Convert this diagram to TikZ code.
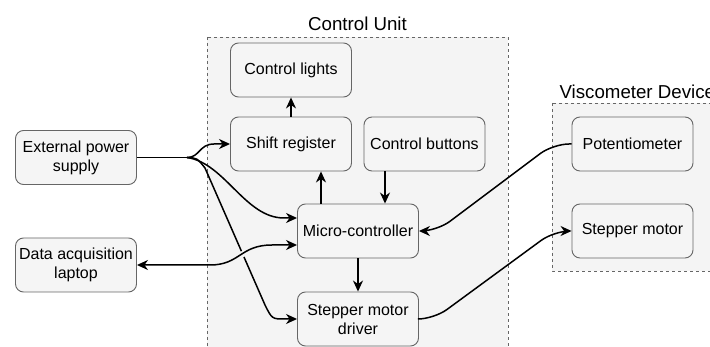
\documentclass[tikz,border=0pt]{standalone}
\usepackage{fontspec}
\setmainfont{Liberation Sans}
\usetikzlibrary{arrows.meta}
\definecolor{boxfill}{HTML}{F5F5F5}
\definecolor{boxline}{HTML}{666666}
\definecolor{cubg}{HTML}{F4F4F4}
\tikzset{
  blk/.style={draw=boxline, fill=boxfill, rounded corners=8pt, line width=0.9pt,
    minimum width=121pt, minimum height=54pt, align=center, inner sep=2pt,
    font=\fontsize{16}{19}\selectfont},
  grp/.style={draw=boxline, fill=cubg, dashed, dash pattern=on 3pt off 3pt, line width=0.9pt},
  ttl/.style={font=\fontsize{18.7}{22}\selectfont, anchor=base},
  conn/.style={draw=black, line width=1.5pt, -{Stealth[length=11pt,width=10pt,inset=3.5pt]}},
  dconn/.style={draw=black, line width=1.5pt, {Stealth[length=11pt,width=10pt,inset=3.5pt]}-{Stealth[length=11pt,width=10pt,inset=3.5pt]}},
  plain/.style={draw=black, line width=1.5pt}
}
\begin{document}
\begin{tikzpicture}[x=1pt,y=-1pt]
\useasboundingbox (0,0) rectangle (710,347);
\clip (0,0) rectangle (710,347);
\fill[white] (0,0) rectangle (710,347);
% groups
\draw[grp] (207,37) rectangle (508,365);
\draw[grp] (552,103) rectangle (725,271);
\node[ttl] (cut) at (357.5,31) {Control Unit};
\node[ttl, anchor=base west] (vdt) at (556,99) {Viscometer Device};
% nodes
\node[blk] (cl) at (291,70) {Control lights};
\node[blk] (sr) at (291,144) {Shift register};
\node[blk] (cb) at (424.5,144) {Control buttons};
\node[blk] (ps) at (76,157.5) {External power\\supply};
\node[blk] (dl) at (76,265) {Data acquisition\\laptop};
\node[blk] (mc) at (358,231) {Micro-controller};
\node[blk] (sd) at (358,319) {Stepper motor\\driver};
\node[blk] (pt) at (632.5,144) {Potentiometer};
\node[blk] (sm) at (632.5,231) {Stepper motor};
\coordinate (j) at (187,157.5);
% internal arrows
\draw[conn] (sr.north) -- (cl.south);
\draw[conn] (mc.north -| 321,0) -- (sr.south -| 321,0);
\draw[conn] (cb.south -| 385,0) -- (mc.north -| 385,0);
\draw[conn] (mc.south) -- (sd.north);
% power supply
\draw[plain] (ps.east) -- (j);
\draw[conn] (j) .. controls (200,157.5) and (199,144) .. (214,144) -- (sr.west);
\draw[conn] (j) .. controls (225,163) and (245,218) .. (284,218) -- ([yshift=13pt]mc.west);
\draw[conn] (j) .. controls (197,158) .. (205,168) -- (265,305) .. controls (272,319) .. (285,319) -- (sd.west);
% laptop
\draw[draw=cubg, line width=6pt] (222,263) .. controls (240,259) and (245,250) .. (258,247);
\draw[dconn] (dl.east) -- (210,265) .. controls (240,265) and (240,245) .. (272,245) -- ([yshift=-14pt]mc.west);
% viscometer
\draw[conn, rounded corners=16pt] (pt.west) -- (553,144) -- (437,231) -- (mc.east);
\draw[conn, rounded corners=16pt] (sd.east) -- (434,319) -- (554,231) -- (sm.west);
\end{tikzpicture}
\end{document}
